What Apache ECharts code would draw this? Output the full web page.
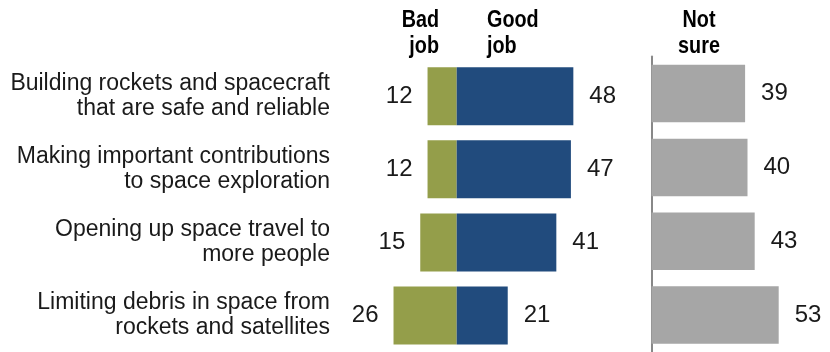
<!DOCTYPE html>
<html><head><meta charset="utf-8">
<script src="https://cdn.jsdelivr.net/npm/echarts@6/dist/echarts.min.js"></script>
<style>html,body{margin:0;padding:0;background:#fff}#c{width:830px;height:352px}</style>
</head><body><div id="c"></div>
<script>
var categories = [
  "Building rockets and spacecraft\nthat are safe and reliable",
  "Making important contributions\nto space exploration",
  "Opening up space travel to\nmore people",
  "Limiting debris in space from\nrockets and satellites"
];
var badJob = [12, 12, 15, 26];
var goodJob = [48, 47, 41, 21];
var notSure = [39, 40, 43, 53];

var chart = echarts.init(document.getElementById('c'), null, {renderer: 'canvas'});
var numFont = {fontFamily: 'Liberation Sans', fontSize: 24, color: '#1a1a1a'};
var hdrFont = 'bold 23px "Liberation Sans", sans-serif';
function hdr(txt, x, align) {
  return {type: 'text', x: x, y: 8, scaleX: 0.86,
    style: {text: txt, font: hdrFont, fill: '#000', textAlign: align, textVerticalAlign: 'top', lineHeight: 26}};
}
chart.setOption({
  animation: false,
  grid: [
    {left: 359.5, width: 243, top: 59.75, height: 298, containLabel: false},
    {left: 651.5, width: 144, top: 56.6, height: 302, containLabel: false}
  ],
  xAxis: [
    {gridIndex: 0, type: 'value', min: -40, max: 60, show: false},
    {gridIndex: 1, type: 'value', min: 0, max: 60, show: false}
  ],
  yAxis: [
    {gridIndex: 0, type: 'category', data: categories, inverse: true,
     axisLine: {show: false}, axisTick: {show: false}, splitLine: {show: false},
     axisLabel: {margin: 29.5, fontFamily: 'Liberation Sans', fontSize: 23, lineHeight: 25, color: '#1a1a1a', align: 'right'}},
    {gridIndex: 1, type: 'category', data: categories, inverse: true,
     axisLine: {show: true, lineStyle: {color: '#888888', width: 2}}, axisTick: {show: false},
     axisLabel: {show: false}, splitLine: {show: false}}
  ],
  series: [
    {type: 'bar', name: 'Bad job', xAxisIndex: 0, yAxisIndex: 0, stack: 'a',
     data: badJob.map(function(v){return -v;}), barWidth: 58, itemStyle: {color: '#949e4a'},
     label: Object.assign({show: true, position: 'left', distance: 15, formatter: function(p){return Math.abs(p.value);}}, numFont)},
    {type: 'bar', name: 'Good job', xAxisIndex: 0, yAxisIndex: 0, stack: 'a',
     data: goodJob, barWidth: 58, itemStyle: {color: '#214b7d'},
     label: Object.assign({show: true, position: 'right', distance: 16}, numFont)},
    {type: 'bar', name: 'Not sure', xAxisIndex: 1, yAxisIndex: 1,
     data: notSure, barWidth: 57.5, itemStyle: {color: '#a6a6a6'},
     label: Object.assign({show: true, position: 'right', distance: 16}, numFont)}
  ],
  graphic: [
    hdr('Bad\njob', 439, 'right'),
    hdr('Good\njob', 487, 'left'),
    hdr('Not\nsure', 699, 'center')
  ]
});
</script></body></html>
